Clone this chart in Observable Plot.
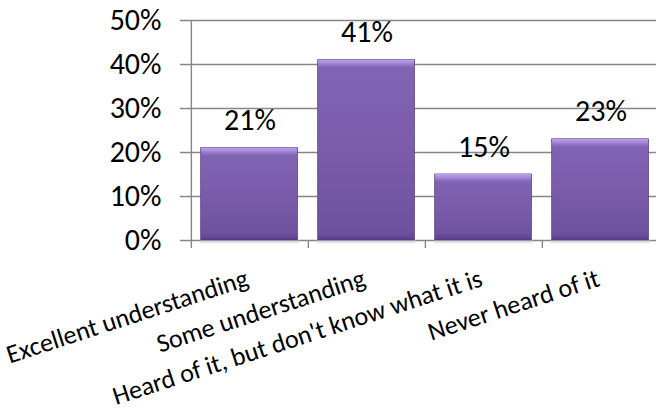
<!DOCTYPE html>
<html>
<head>
<meta charset="utf-8">
<script src="https://cdn.jsdelivr.net/npm/d3@7"></script>
<script src="https://cdn.jsdelivr.net/npm/@observablehq/plot@0.6"></script>
<style>
  html, body { margin: 0; padding: 0; background: #fff; overflow: hidden; }
  svg { display: block; }
</style>
</head>
<body>
<div id="chart"></div>
<script>
const categories = ["Excellent understanding", "Some understanding", "Heard of it, but don't know what it is", "Never heard of it"];
const values = [21, 41, 15, 23];
const yTicks = [0, 10, 20, 30, 40, 50];

const data = categories.map((c, i) => ({cat: c, v: values[i]}));

const FONT = "Calibri, Carlito, 'Open Sans', sans-serif";
const xRange = [190, 659];
const step = (xRange[1] - xRange[0]) / categories.length;
const grid = "#868686";

const chart = Plot.plot({
  width: 656,
  height: 418,
  marginLeft: 190,
  marginRight: 0,
  marginTop: 20,
  marginBottom: 178,
  style: {fontFamily: FONT, color: "#000", background: "#fff"},
  x: {type: "band", domain: categories, range: xRange, padding: 0, axis: null},
  y: {domain: [0, 50], axis: null},
  marks: [
    Plot.ruleY(yTicks, {stroke: grid, strokeWidth: 1.4, insetLeft: -10}),
    Plot.ruleX([categories[0]], {x: d => d, dx: -step / 2, y1: 50, y2: 0, insetBottom: -8, stroke: grid, strokeWidth: 1.4}),
    Plot.ruleX(categories.slice(1), {x: d => d, dx: -step / 2, y1: 0, y2: 0, insetBottom: -8, stroke: grid, strokeWidth: 1.4}),
    Plot.barY(data, {x: "cat", y1: 0, y2: 0, insetBottom: -4, insetLeft: 9, insetRight: 9.5, fill: "url(#shadowGrad)"}),
    Plot.barY(data, {x: "cat", y: "v", insetLeft: 9.7, insetRight: 10.6, fill: "url(#bodyGrad)", stroke: "#5a4186", strokeWidth: 0.8}),
    Plot.barY(data, {x: "cat", y1: "v", y2: "v", insetBottom: -8, insetLeft: 10.1, insetRight: 11, fill: "url(#topGrad)"}),
    Plot.barY(data, {x: "cat", y1: 0, y2: 0, insetTop: -7, insetLeft: 10.1, insetRight: 11, fill: "url(#botGrad)"}),
    Plot.text(data, {x: "cat", y: "v", text: d => d.v + "%", dy: -18, lineAnchor: "bottom", fontSize: 30, fill: "#000"}),
    Plot.text(yTicks, {y: d => d, text: d => d + "%", frameAnchor: "left", dx: -29, textAnchor: "end", fontSize: 30, fill: "#000"}),
    Plot.text(categories, {x: d => d, text: d => d, frameAnchor: "bottom", dy: 45, rotate: -18, textAnchor: "end", lineAnchor: "bottom", fontSize: 26, fill: "#000"})
  ]
});

const svg = d3.select(chart);
const defs = svg.insert("defs", ":first-child");
function vgrad(id, stops) {
  const g = defs.append("linearGradient").attr("id", id).attr("x1", 0).attr("y1", 0).attr("x2", 0).attr("y2", 1);
  stops.forEach(([o, c, op]) => g.append("stop").attr("offset", o).attr("stop-color", c).attr("stop-opacity", op == null ? 1 : op));
}
vgrad("bodyGrad", [[0, "#8264b4"], [0.5, "#7a5cab"], [1, "#6c4f9d"]]);
vgrad("topGrad", [[0, "#bca4ea"], [0.45, "#a488d8"], [1, "#8466b7", 0.6]]);
vgrad("botGrad", [[0, "#6a4d9b", 0.3], [1, "#553b82"]]);
vgrad("shadowGrad", [[0, "#bdbdbd"], [1, "#ffffff"]]);

document.getElementById("chart").appendChild(chart);
</script>
</body>
</html>
